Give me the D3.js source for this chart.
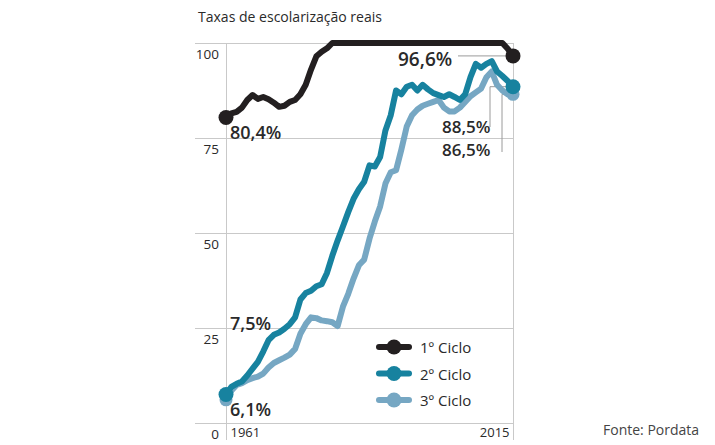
<!DOCTYPE html>
<html><head><meta charset="utf-8">
<script src="https://cdn.jsdelivr.net/npm/d3@7"></script>
<style>
body{margin:0;background:#fff;}
svg{display:block;font-family:"Open Sans",sans-serif;}
</style></head>
<body>
<svg id="c" width="715" height="445"></svg>
<script>
const years = d3.range(1961, 2016);
const seriesNames = ["1º Ciclo", "2º Ciclo", "3º Ciclo"];
const seriesColors = ["#231f20", "#17829f", "#76a7c3"];
const ciclo1 = [80.4,81.5,81.9,83,85,86.3,85.3,85.8,85.2,84.3,83.2,83.5,84.5,85,86.5,89,93,96.5,97.7,98.6,
  100,100,100,100,100,100,100,100,100,100,100,100,100,100,100,100,100,100,100,100,100,100,100,100,100,100,100,100,100,100,100,100,100,98.5,96.6];
const ciclo2 = [7.5,9.5,10.3,10.9,12.5,14.3,16.1,18.8,21.8,23.2,23.8,24.8,26,27.8,32.5,34.2,34.8,36,36.5,39.5,
  44,48,51.7,55.5,59,61.5,63.5,67.8,67.5,70,77,81,87.5,86.5,88.5,89,87.5,89,87.8,86.8,86.3,85.8,86.5,85.8,85,86.5,91,94.5,93.5,94.5,95.2,92.5,91.3,90,88.5];
const ciclo3 = [6.1,8.5,10,10.5,11.3,11.8,12.2,13,14.6,15.8,16.5,17.2,18,19.5,23.5,26,27.8,27.6,27,26.8,
  26.5,25.5,30.6,34,38,41.5,43,48.5,53,57,63,66,66.5,72,78,81,82.5,83.5,84,84.5,85,83,82,82,83,84.5,86,87,88,91,92.5,89,87.5,86.5,86.5];
const yTicks = [0, 25, 50, 75, 100];
const xTicks = [1961, 2015];
const title = "Taxas de escolarização reais";
const source = "Fonte: Pordata";

const svg = d3.select("#c");
const x = d3.scaleLinear().domain([1961, 2015]).range([226, 513]);
const y = d3.scaleLinear().domain([0, 100]).range([423, 43]);
const grid = "#c9c9c9";
const txt = "#2a2a2a";

// title
svg.append("text").attr("x", 198).attr("y", 22).attr("font-size", 14.5)
  .attr("fill", txt).attr("textLength", 184).attr("lengthAdjust", "spacingAndGlyphs").text(title);

// y gridlines via axis
const gy = svg.append("g").attr("transform", "translate(195,0)")
  .call(d3.axisRight(y).tickValues(yTicks).tickSize(319).tickFormat(d3.format("d")));
gy.select(".domain").remove();
gy.selectAll(".tick line").attr("stroke", grid).attr("stroke-width", 1);
gy.selectAll(".tick text").attr("x", 24).attr("dy", 15).attr("text-anchor", "end")
  .attr("font-size", 13.5).attr("fill", txt).attr("font-family", "Open Sans");

// x axis vertical lines
const gx = svg.append("g").attr("transform", "translate(0,440)")
  .call(d3.axisBottom(x).tickValues(xTicks).tickSize(-397).tickFormat(d3.format("d")));
gx.select(".domain").remove();
gx.selectAll(".tick line").attr("stroke", grid).attr("stroke-width", 1);
gx.selectAll(".tick text").attr("y", -3).attr("dy", 0)
  .attr("font-size", 13).attr("fill", txt).attr("font-family", "Open Sans")
  .attr("text-anchor", (d, i) => i === 0 ? "start" : "end")
  .attr("x", (d, i) => i === 0 ? 4 : -4);

// leader lines for labels
const last = years.length - 1;
const lead = svg.append("g").attr("stroke", "#9a9a9a").attr("stroke-width", 1).attr("fill", "none");
lead.append("line").attr("x1", 458).attr("x2", x(2015)).attr("y1", y(ciclo1[last])).attr("y2", y(ciclo1[last]));
lead.append("polyline").attr("points", `490,127 490,${y(ciclo2[last])} ${x(2015)},${y(ciclo2[last])}`);
lead.append("polyline").attr("points", `502,152 502,${y(ciclo3[last])} ${x(2015)},${y(ciclo3[last])}`);

// lines
const data = [ciclo1, ciclo2, ciclo3];
const line = d3.line().x((d, i) => x(years[i])).y(d => y(d));
const order = [2, 1, 0];
order.forEach(k => {
  svg.append("path").datum(data[k]).attr("d", line).attr("fill", "none")
    .attr("stroke", seriesColors[k]).attr("stroke-width", 6)
    .attr("stroke-linejoin", "round").attr("stroke-linecap", "round");
});
order.forEach(k => {
  [0, last].forEach(i => {
    svg.append("circle").attr("cx", x(years[i])).attr("cy", y(data[k][i]))
      .attr("r", k === 2 ? 6.5 : 7.5).attr("fill", seriesColors[k]);
  });
});

// value labels
const fmt = v => d3.format(".1f")(v).replace(".", ",") + "%";
const lbl = (t, xx, yy, fs) => svg.append("text").attr("x", xx).attr("y", yy)
  .attr("font-size", fs).attr("font-weight", 600).attr("fill", txt).text(t);
lbl(fmt(ciclo1[last]), 398, 66, 19);
lbl(fmt(ciclo1[0]), 230, 139, 18);
lbl(fmt(ciclo2[last]), 442, 132.5, 17);
lbl(fmt(ciclo3[last]), 442, 156, 17);
lbl(fmt(ciclo2[0]), 230, 330, 18);
lbl(fmt(ciclo3[0]), 230, 416, 18);

// legend
const lg = svg.append("g");
seriesNames.forEach((n, i) => {
  const cy = 347 + i * 26.5;
  lg.append("line").attr("x1", 379).attr("x2", 409).attr("y1", cy).attr("y2", cy)
    .attr("stroke", seriesColors[i]).attr("stroke-width", 6).attr("stroke-linecap", "round");
  lg.append("circle").attr("cx", 394).attr("cy", cy).attr("r", 7.5).attr("fill", seriesColors[i]);
  lg.append("text").attr("x", 420).attr("y", cy + 6).attr("font-size", 15).attr("fill", txt).text(n);
});

// source
svg.append("text").attr("x", 603).attr("y", 435).attr("font-size", 14).attr("fill", "#444").text(source);
</script>
</body></html>
